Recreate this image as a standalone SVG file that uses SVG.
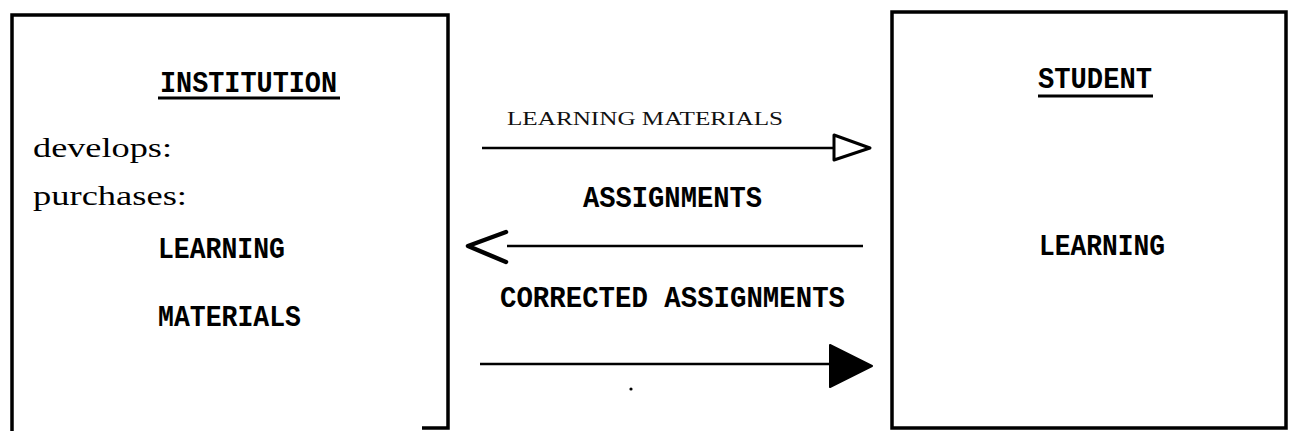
<svg xmlns="http://www.w3.org/2000/svg" width="1289" height="431" viewBox="0 0 1289 431">
<style>
.box{fill:none;stroke:#000;stroke-width:3.5;stroke-linejoin:miter}
.tw{font-family:"Liberation Mono","DejaVu Sans Mono",monospace;font-size:30px;fill:#000;font-weight:bold}
.sf{font-family:"Liberation Serif","DejaVu Serif",serif;font-size:28px;fill:#000}
.lm{font-family:"Liberation Serif","DejaVu Serif",serif;font-size:19px;fill:#111}
.ul{stroke:#000;stroke-width:3}
.ln{stroke:#000;stroke-width:2.5;fill:none}
</style>
<rect width="1289" height="431" fill="#fff"/>
<g id="institution">
<path class="box" d="M12,431 L12,15 L448,15 L448,428 L422,428"/>
<text class="tw" x="160" y="92" textLength="177" lengthAdjust="spacingAndGlyphs">INSTITUTION</text>
<line class="ul" x1="158" y1="98" x2="340" y2="98"/>
<text class="sf" x="33" y="157" textLength="139" lengthAdjust="spacingAndGlyphs">develops:</text>
<text class="sf" x="33" y="205" textLength="154" lengthAdjust="spacingAndGlyphs">purchases:</text>
<text class="tw" x="158" y="258" textLength="127" lengthAdjust="spacingAndGlyphs">LEARNING</text>
<text class="tw" x="158" y="326" textLength="143" lengthAdjust="spacingAndGlyphs">MATERIALS</text>
</g>
<g id="student">
<rect class="box" x="892" y="12" width="394" height="416"/>
<text class="tw" x="1038" y="88" textLength="114" lengthAdjust="spacingAndGlyphs">STUDENT</text>
<line class="ul" x1="1038" y1="96" x2="1153" y2="96"/>
<text class="tw" x="1039" y="255" textLength="126" lengthAdjust="spacingAndGlyphs">LEARNING</text>
</g>
<g id="connectors">
<g id="c1">
<line class="ln" x1="482" y1="148" x2="834" y2="148"/>
<polygon points="834,135 870,148 834,160" fill="#fff" stroke="#000" stroke-width="3" stroke-linejoin="round"/>
<text class="lm" x="507" y="125" textLength="276" lengthAdjust="spacingAndGlyphs">LEARNING MATERIALS</text>
</g>
<g id="c2">
<line class="ln" x1="507" y1="246" x2="863" y2="246"/>
<polyline points="506,232 468,246 506,262" fill="none" stroke="#000" stroke-width="4.5" stroke-linejoin="round" stroke-linecap="round"/>
<text class="tw" x="583" y="207" textLength="179" lengthAdjust="spacingAndGlyphs">ASSIGNMENTS</text>
</g>
<g id="c3">
<text class="tw" x="500" y="307" textLength="345" lengthAdjust="spacingAndGlyphs">CORRECTED ASSIGNMENTS</text>
<line class="ln" x1="480" y1="364" x2="832" y2="364"/>
<polygon points="830,345 872,366 830,387" fill="#000" stroke="#000" stroke-width="2" stroke-linejoin="round"/>
</g>
</g>
<circle cx="631" cy="389" r="1.6" fill="#000"/>
</svg>
